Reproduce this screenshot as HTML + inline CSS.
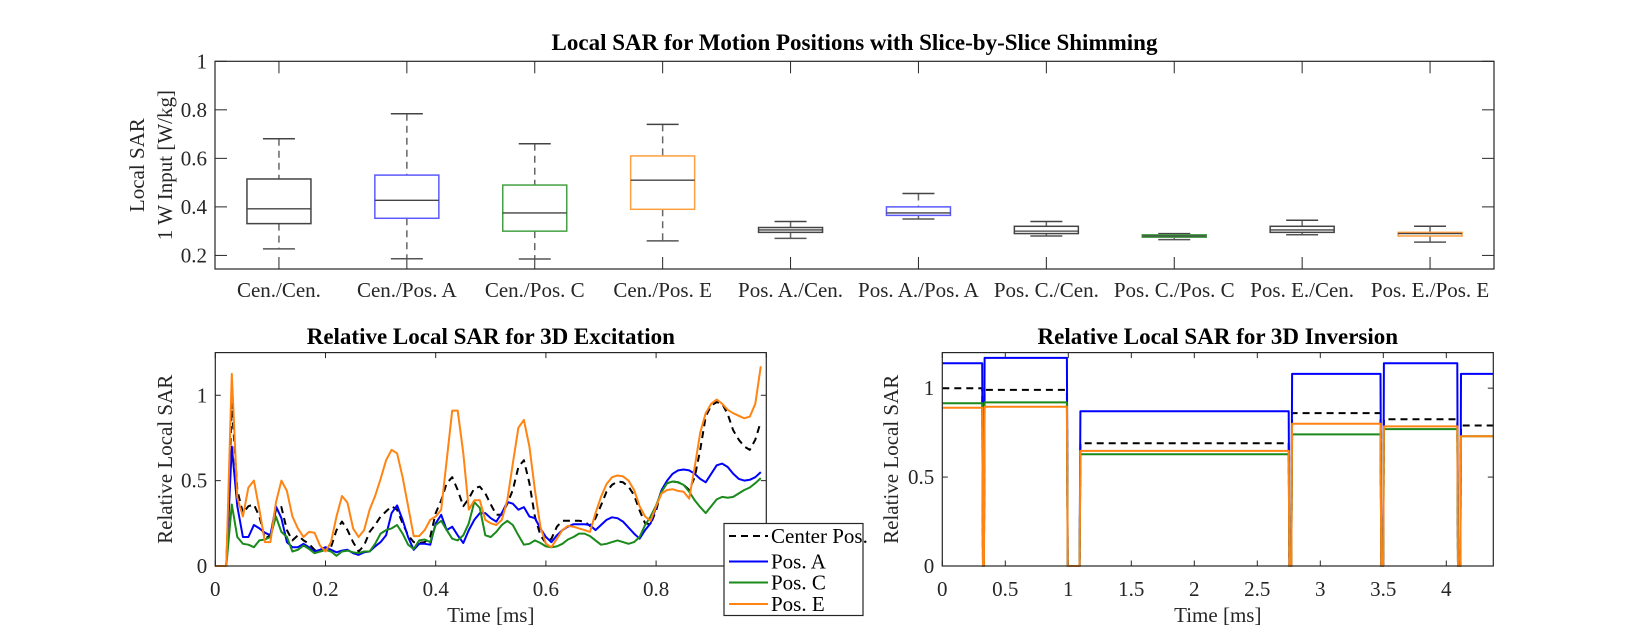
<!DOCTYPE html>
<html><head><meta charset="utf-8"><style>
html,body{margin:0;padding:0;background:#fff;}
svg{display:block;font-family:"Liberation Serif","Times New Roman",serif;}
</style></head><body>
<svg id="fig" width="1651" height="637" viewBox="0 0 1651 637" xmlns="http://www.w3.org/2000/svg">
<rect x="0" y="0" width="1651" height="637" fill="#fff"/>
<g id="top"></g>
<g id="bl"></g>
<g id="br"></g>
</svg>
<script>
// ---------- Top boxplot data ----------
const boxCategories = ["Cen./Cen.","Cen./Pos. A","Cen./Pos. C","Cen./Pos. E","Pos. A./Cen.","Pos. A./Pos. A","Pos. C./Cen.","Pos. C./Pos. C","Pos. E./Cen.","Pos. E./Pos. E"];
const boxLow    = [0.227,0.186,0.185,0.26,0.27,0.35,0.28,0.265,0.285,0.255];
const boxQ1     = [0.331,0.353,0.30,0.39,0.295,0.365,0.29,0.275,0.295,0.28];
const boxMedian = [0.392,0.427,0.375,0.51,0.305,0.375,0.30,0.28,0.305,0.29];
const boxQ3     = [0.515,0.531,0.49,0.61,0.315,0.40,0.32,0.285,0.32,0.295];
const boxHigh   = [0.681,0.784,0.66,0.74,0.34,0.455,0.34,0.29,0.345,0.32];
const boxColorKey = ["k","b","g","o","k","b","k","g","k","o"];
const boxYTicks = [0.2,0.4,0.6,0.8,1];

// ---------- Excitation data ----------
const excTime = Array.from({length:100},(_,i)=>i/100);
const excCenter = [0,0,0,0.95,0.445,0.31,0.35,0.36,0.29,0.16,0.18,0.33,0.345,0.21,0.15,0.18,0.15,0.13,0.095,0.085,0.095,0.11,0.21,0.26,0.21,0.14,0.085,0.12,0.2,0.24,0.29,0.32,0.35,0.33,0.25,0.18,0.14,0.135,0.14,0.17,0.31,0.385,0.485,0.52,0.445,0.35,0.395,0.455,0.465,0.425,0.36,0.30,0.30,0.365,0.445,0.58,0.62,0.485,0.29,0.18,0.135,0.16,0.23,0.265,0.265,0.265,0.265,0.26,0.235,0.28,0.355,0.435,0.475,0.495,0.49,0.465,0.415,0.325,0.25,0.245,0.325,0.445,0.485,0.495,0.49,0.475,0.445,0.52,0.68,0.875,0.94,0.96,0.95,0.89,0.795,0.74,0.70,0.68,0.74,0.845];
const excPosA = [0,0,0,0.70,0.35,0.17,0.17,0.24,0.22,0.195,0.18,0.35,0.28,0.14,0.11,0.11,0.13,0.11,0.085,0.095,0.11,0.095,0.08,0.09,0.095,0.075,0.065,0.08,0.085,0.115,0.14,0.18,0.31,0.355,0.27,0.17,0.095,0.13,0.13,0.125,0.25,0.30,0.21,0.23,0.18,0.135,0.21,0.27,0.31,0.31,0.28,0.26,0.31,0.375,0.365,0.33,0.345,0.29,0.28,0.22,0.17,0.14,0.18,0.21,0.23,0.245,0.245,0.245,0.24,0.21,0.24,0.27,0.285,0.28,0.26,0.225,0.19,0.16,0.21,0.25,0.345,0.445,0.50,0.54,0.56,0.565,0.56,0.54,0.51,0.49,0.54,0.59,0.60,0.58,0.54,0.51,0.50,0.505,0.52,0.55];
const excPosC = [0,0,0,0.36,0.17,0.13,0.125,0.11,0.15,0.155,0.17,0.29,0.20,0.17,0.085,0.095,0.12,0.10,0.075,0.085,0.095,0.085,0.06,0.085,0.09,0.08,0.075,0.085,0.085,0.13,0.19,0.21,0.22,0.24,0.19,0.125,0.10,0.15,0.155,0.14,0.24,0.265,0.21,0.16,0.15,0.18,0.25,0.375,0.34,0.18,0.17,0.20,0.24,0.265,0.24,0.18,0.125,0.13,0.15,0.135,0.115,0.11,0.115,0.13,0.155,0.17,0.19,0.19,0.175,0.15,0.125,0.13,0.14,0.15,0.14,0.13,0.14,0.17,0.24,0.29,0.355,0.435,0.485,0.495,0.49,0.475,0.435,0.385,0.345,0.31,0.35,0.39,0.405,0.40,0.405,0.425,0.445,0.46,0.485,0.515];
const excPosE = [0,0,0,1.125,0.40,0.29,0.46,0.50,0.33,0.14,0.14,0.37,0.50,0.44,0.29,0.22,0.17,0.20,0.195,0.12,0.085,0.14,0.29,0.41,0.37,0.22,0.17,0.21,0.33,0.41,0.51,0.62,0.68,0.66,0.52,0.35,0.175,0.175,0.21,0.27,0.29,0.33,0.62,0.91,0.91,0.66,0.33,0.385,0.385,0.27,0.25,0.24,0.27,0.385,0.60,0.81,0.855,0.70,0.445,0.23,0.13,0.11,0.16,0.21,0.235,0.23,0.22,0.21,0.20,0.31,0.405,0.48,0.52,0.53,0.525,0.50,0.445,0.35,0.29,0.265,0.35,0.425,0.445,0.45,0.44,0.435,0.395,0.58,0.78,0.895,0.95,0.975,0.95,0.915,0.895,0.88,0.865,0.875,0.95,1.17];
const excXTicks = [0,0.2,0.4,0.6,0.8,1];
const excXTickLabels = ["0","0.2","0.4","0.6","0.8",""];
const excYTicks = [0,0.5,1];
const legendLabels = ["Center Pos.","Pos. A","Pos. C","Pos. E"];

// ---------- Inversion data ----------
const invSegStart = [0,0.336,1.096,2.776,3.505,4.117];
const invSegEnd   = [0.317,0.989,2.749,3.478,4.087,4.373];
const invCenter = [1.0,0.99,0.69,0.86,0.825,0.79];
const invPosA   = [1.14,1.17,0.87,1.08,1.14,1.08];
const invPosC   = [0.915,0.92,0.628,0.74,0.77,0.73];
const invPosE   = [0.89,0.895,0.647,0.80,0.785,0.73];
const invXTicks = [0,0.5,1,1.5,2,2.5,3,3.5,4];
const invYTicks = [0,0.5,1];

const NS="http://www.w3.org/2000/svg";
const COL={k:"#000000",b:"#0000ff",g:"#1a8a1a",o:"#ff8412"};
const BOXCOL={k:"#444444",b:"#5a5aff",g:"#44a044",o:"#ffa040"};
function mk(parent,tag,attrs,text){const e=document.createElementNS(NS,tag);for(const k in attrs)e.setAttribute(k,attrs[k]);if(text!==undefined)e.textContent=text;parent.appendChild(e);return e;}
function lin(d0,d1,r0,r1){return v=>r0+(v-d0)/(d1-d0)*(r1-r0);}

// ===== Top panel =====
(function(){
const g=document.getElementById('top');
const L=215,R=1494,T=61.3,B=269;
const x=lin(0.5,10.5,L,R), y=lin(0.144,1.0,B,T);
let t=mk(g,'text',{x:(L+R)/2,y:50,'text-anchor':'middle','font-size':23,'font-weight':'bold',fill:'#000'},'Local SAR for Motion Positions with Slice-by-Slice Shimming');

boxYTicks.forEach(v=>{
  let l=mk(g,'text',{x:L-8,y:y(v)+7,'text-anchor':'end','font-size':21,fill:'#262626'},String(v));
  
  mk(g,'line',{x1:L,x2:L+12,y1:y(v),y2:y(v),stroke:'#262626','stroke-width':1});
  mk(g,'line',{x1:R,x2:R-12,y1:y(v),y2:y(v),stroke:'#262626','stroke-width':1});
});
boxCategories.forEach((c,i)=>{
  const cx=x(i+1);
  mk(g,'line',{x1:cx,x2:cx,y1:B,y2:B-12,stroke:'#262626','stroke-width':1});
  mk(g,'line',{x1:cx,x2:cx,y1:T,y2:T+12,stroke:'#262626','stroke-width':1});
  let l=mk(g,'text',{x:cx,y:297,'text-anchor':'middle','font-size':21,fill:'#262626'},c);
  
  const bg=mk(g,'g',{});
  
  const hw=32,cw=16,bc=BOXCOL[boxColorKey[i]];
  mk(bg,'line',{x1:cx,x2:cx,y1:y(boxHigh[i]),y2:y(boxQ3[i]),stroke:'#666','stroke-width':1.5,'stroke-dasharray':'7,5'});
  mk(bg,'line',{x1:cx,x2:cx,y1:y(boxQ1[i]),y2:y(boxLow[i]),stroke:'#666','stroke-width':1.5,'stroke-dasharray':'7,5'});
  mk(bg,'line',{x1:cx-cw,x2:cx+cw,y1:y(boxHigh[i]),y2:y(boxHigh[i]),stroke:'#444','stroke-width':1.5});
  mk(bg,'line',{x1:cx-cw,x2:cx+cw,y1:y(boxLow[i]),y2:y(boxLow[i]),stroke:'#555','stroke-width':1.5});
  mk(bg,'rect',{x:cx-hw,y:y(boxQ3[i]),width:2*hw,height:y(boxQ1[i])-y(boxQ3[i]),fill:'none',stroke:bc,'stroke-width':1.5});
  mk(bg,'line',{x1:cx-hw,x2:cx+hw,y1:y(boxMedian[i]),y2:y(boxMedian[i]),stroke:'#444','stroke-width':1.3});
});
mk(g,'rect',{x:L,y:T,width:R-L,height:B-T,fill:'none',stroke:'#262626','stroke-width':1.2});
let a=mk(g,'text',{transform:`translate(144,${(T+B)/2}) rotate(-90)`,'text-anchor':'middle','font-size':21,fill:'#262626'},'Local SAR');

a=mk(g,'text',{transform:`translate(172,${(T+B)/2}) rotate(-90)`,'text-anchor':'middle','font-size':21,fill:'#262626'},'1 W Input [W/kg]');

})();

// ===== Bottom left =====
(function(){
const g=document.getElementById('bl');
const L=215.3,R=766.3,T=352.6,B=566;
const x=lin(0,1,L,R), y=lin(0,1.25,B,T);
let t=mk(g,'text',{x:(L+R)/2,y:344,'text-anchor':'middle','font-size':23,'font-weight':'bold',fill:'#000'},'Relative Local SAR for 3D Excitation');

excXTicks.forEach((v,i)=>{
  mk(g,'line',{x1:x(v),x2:x(v),y1:B,y2:B-5.5,stroke:'#262626'});
  mk(g,'line',{x1:x(v),x2:x(v),y1:T,y2:T+5.5,stroke:'#262626'});
  let l=mk(g,'text',{x:x(v),y:596,'text-anchor':'middle','font-size':21,fill:'#262626'},excXTickLabels[i]);
  
});
excYTicks.forEach(v=>{
  mk(g,'line',{x1:L,x2:L+5.5,y1:y(v),y2:y(v),stroke:'#262626'});
  mk(g,'line',{x1:R,x2:R-5.5,y1:y(v),y2:y(v),stroke:'#262626'});
  let l=mk(g,'text',{x:L-8,y:y(v)+7,'text-anchor':'end','font-size':21,fill:'#262626'},String(v));
  
});
const series=[[excCenter,COL.k,true,'series-center'],[excPosA,COL.b,false,'series-pos-a'],[excPosC,COL.g,false,'series-pos-c'],[excPosE,COL.o,false,'series-pos-e']];
series.forEach(s=>{
  const d=s[0].map((v,i)=>(i?'L':'M')+x(excTime[i]).toFixed(1)+','+y(v).toFixed(1)).join(' ');
  const p=mk(g,'path',{d:d,fill:'none',stroke:s[1],'stroke-width':2,'stroke-linejoin':'round'});
  if(s[2])p.setAttribute('stroke-dasharray','7,5');
  
});
mk(g,'rect',{x:L,y:T,width:R-L,height:B-T,fill:'none',stroke:'#262626','stroke-width':1.2});
let a=mk(g,'text',{transform:`translate(172,${(T+B)/2}) rotate(-90)`,'text-anchor':'middle','font-size':21,fill:'#262626'},'Relative Local SAR');

a=mk(g,'text',{x:(L+R)/2,y:622,'text-anchor':'middle','font-size':21,fill:'#262626'},'Time [ms]');

// legend
const lg=mk(g,'g',{});

mk(lg,'rect',{x:724,y:523.5,width:139,height:92,fill:'#fff',stroke:'#262626','stroke-width':1.2});
const lc=[COL.k,COL.b,COL.g,COL.o], ly=[536,561.5,582.5,604];
legendLabels.forEach((lab,i)=>{
  const e=mk(lg,'g',{});
  
  const ln=mk(e,'line',{x1:729,x2:768,y1:ly[i],y2:ly[i],stroke:lc[i],'stroke-width':2});
  if(i===0)ln.setAttribute('stroke-dasharray','7,5');
  mk(e,'text',{x:771,y:ly[i]+7,'font-size':21,fill:'#000'},lab);
});
})();

// ===== Bottom right =====
(function(){
const g=document.getElementById('br');
const L=942.3,R=1493.3,T=352.6,B=566;
const x=lin(0,4.373,L,R), y=lin(0,1.2,B,T);
let t=mk(g,'text',{x:(L+R)/2,y:344,'text-anchor':'middle','font-size':23,'font-weight':'bold',fill:'#000'},'Relative Local SAR for 3D Inversion');

invXTicks.forEach(v=>{
  mk(g,'line',{x1:x(v),x2:x(v),y1:B,y2:B-5.5,stroke:'#262626'});
  mk(g,'line',{x1:x(v),x2:x(v),y1:T,y2:T+5.5,stroke:'#262626'});
  let l=mk(g,'text',{x:x(v),y:596,'text-anchor':'middle','font-size':21,fill:'#262626'},String(v));
  
});
invYTicks.forEach(v=>{
  mk(g,'line',{x1:L,x2:L+5.5,y1:y(v),y2:y(v),stroke:'#262626'});
  mk(g,'line',{x1:R,x2:R-5.5,y1:y(v),y2:y(v),stroke:'#262626'});
  let l=mk(g,'text',{x:L-8,y:y(v)+7,'text-anchor':'end','font-size':21,fill:'#262626'},String(v));
  
});
const dl=0.006;
function stepPath(levels){
  let pts=[];
  levels.forEach((lv,i)=>{
    if(i>0){pts.push([invSegStart[i]-dl,0]);}
    pts.push([invSegStart[i],lv]);pts.push([invSegEnd[i],lv]);
    if(i<levels.length-1){pts.push([invSegEnd[i]+dl,0]);}
  });
  return pts.map((p,i)=>(i?'L':'M')+x(p[0]).toFixed(1)+','+y(p[1]).toFixed(1)).join(' ');
}
const series=[[invCenter,COL.k,true,'series-center'],[invPosA,COL.b,false,'series-pos-a'],[invPosC,COL.g,false,'series-pos-c'],[invPosE,COL.o,false,'series-pos-e']];
series.forEach(s=>{
  const p=mk(g,'path',{d:stepPath(s[0]),fill:'none',stroke:s[1],'stroke-width':2,'stroke-linejoin':'round'});
  if(s[2])p.setAttribute('stroke-dasharray','7,5');
  
});
mk(g,'rect',{x:L,y:T,width:R-L,height:B-T,fill:'none',stroke:'#262626','stroke-width':1.2});
let a=mk(g,'text',{transform:`translate(898,${(T+B)/2}) rotate(-90)`,'text-anchor':'middle','font-size':21,fill:'#262626'},'Relative Local SAR');

a=mk(g,'text',{x:(L+R)/2,y:622,'text-anchor':'middle','font-size':21,fill:'#262626'},'Time [ms]');

})();
</script>
</body></html>
